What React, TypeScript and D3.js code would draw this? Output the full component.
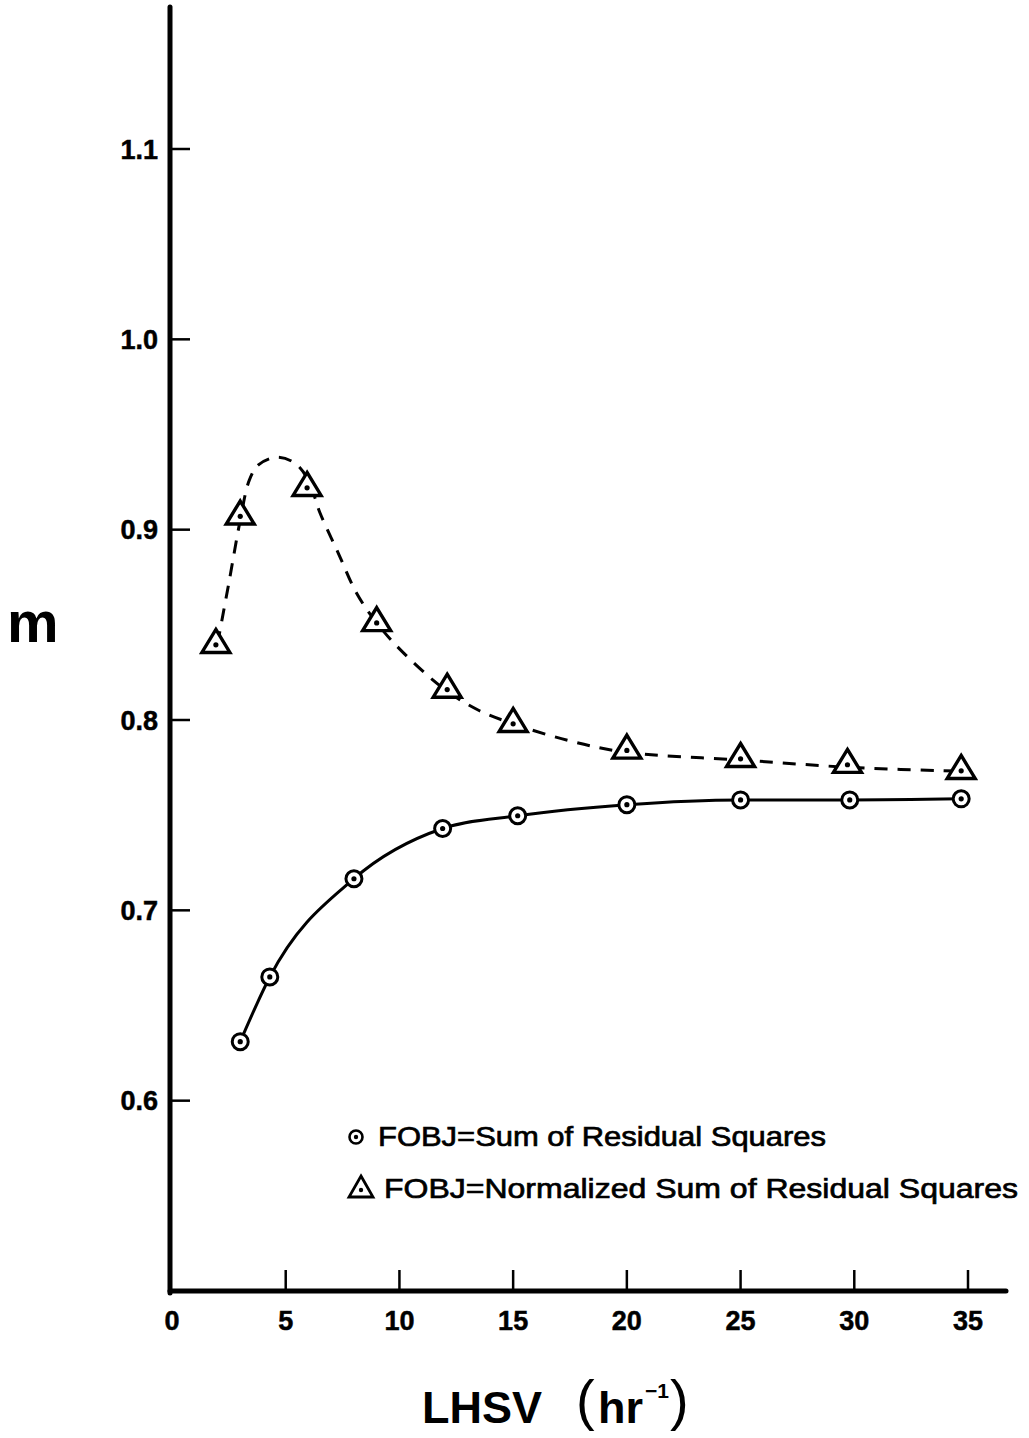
import * as d3 from "d3";

// FOBJ = Sum of Residual Squares (circles, solid curve)
const sumLHSV = [3, 4.3, 8, 11.9, 15.2, 20, 25, 29.8, 34.7];
const sumM = [0.631, 0.665, 0.7166, 0.743, 0.7497, 0.7555, 0.758, 0.758, 0.7586];

// FOBJ = Normalized Sum of Residual Squares (triangles, dashed curve)
const normLHSV = [1.93, 3.0, 5.94, 9.0, 12.1, 15.0, 20, 25, 29.7, 34.7];
const normM = [0.8395, 0.907, 0.922, 0.851, 0.816, 0.798, 0.784, 0.7796, 0.7765, 0.7733];

// hand-drawn fitted dashed curve
const fitLHSV = [2, 2.5, 3, 3.4, 3.8, 4.6, 5.4, 6, 6.5, 7.3, 8.1, 9, 10.2, 12, 13.5, 15, 17.5, 20, 25, 30, 35];
const fitM = [0.84, 0.872, 0.905, 0.926, 0.934, 0.938, 0.935, 0.926, 0.909, 0.888, 0.867, 0.851, 0.835, 0.816, 0.805, 0.798, 0.789, 0.783, 0.779, 0.775, 0.773];

const xTicks = [0, 5, 10, 15, 20, 25, 30, 35];
const yTicks = [0.6, 0.7, 0.8, 0.9, 1.0, 1.1];

const legendLabels = [
  "FOBJ=Sum of Residual Squares",
  "FOBJ=Normalized Sum of Residual Squares",
];

const width = 1029;
const height = 1438;

const x = d3.scaleLinear().domain([0, 35]).range([172, 968]);
const y = d3.scaleLinear().domain([0.5, 1.1]).range([1291, 149]);

const font = "'Liberation Sans', Arial, Helvetica, sans-serif";

const triPath = (w: number, h: number) =>
  `M0,${-(2 * h) / 3}L${w / 2},${h / 3}L${-w / 2},${h / 3}Z`;

export default function App() {
  const sumPts = sumLHSV.map((v, i) => [v, sumM[i]] as [number, number]);
  const normPts = normLHSV.map((v, i) => [v, normM[i]] as [number, number]);
  const fitPts = fitLHSV.map((v, i) => [v, fitM[i]] as [number, number]);

  const solid = d3
    .line<[number, number]>()
    .x((d) => x(d[0]))
    .y((d) => y(d[1]))
    .curve(d3.curveMonotoneX);
  const dashed = d3
    .line<[number, number]>()
    .x((d) => x(d[0]))
    .y((d) => y(d[1]))
    .curve(d3.curveCatmullRom.alpha(0.5));

  const axisLeft = x(0) - 2;
  const axisBottom = y(0.5);
  const yTop = 7;

  return (
    <svg
      width={width}
      height={height}
      viewBox={`0 0 ${width} ${height}`}
      style={{ position: "absolute", left: 0, top: 0, background: "#fff" }}
    >
      <rect width={width} height={height} fill="#fff" />

      {/* axes */}
      <line x1={axisLeft} x2={axisLeft} y1={yTop} y2={axisBottom + 2} stroke="#000" strokeWidth={5} strokeLinecap="round" />
      <line x1={axisLeft} x2={1006} y1={axisBottom} y2={axisBottom} stroke="#000" strokeWidth={5} strokeLinecap="round" />

      {yTicks.map((t) => (
        <g key={"y" + t}>
          <line x1={axisLeft} x2={190} y1={y(t)} y2={y(t)} stroke="#000" strokeWidth={2.5} />
          <text
            x={158}
            y={y(t)}
            dy="0.36em"
            textAnchor="end"
            fontFamily={font}
            fontWeight="bold"
            fontSize={27}
            stroke="#000"
            strokeWidth={0.5}
          >
            {t.toFixed(1)}
          </text>
        </g>
      ))}

      {xTicks.map((t) => (
        <g key={"x" + t}>
          {t > 0 && (
            <line x1={x(t)} x2={x(t)} y1={axisBottom} y2={1270} stroke="#000" strokeWidth={2.5} />
          )}
          <text
            x={x(t)}
            y={1330}
            textAnchor="middle"
            fontFamily={font}
            fontWeight="bold"
            fontSize={27}
            stroke="#000"
            strokeWidth={0.5}
          >
            {t}
          </text>
        </g>
      ))}

      {/* axis titles */}
      <text x={7} y={642} fontFamily={font} fontWeight="bold" fontSize={58}>
        m
      </text>
      <text x={422} y={1423} fontFamily={font} fontWeight="bold" fontSize={45}>
        LHSV
      </text>
      <text x={576} y={1419} fontFamily={font} fontWeight="normal" fontSize={56}>
        (
      </text>
      <text x={598} y={1423} fontFamily={font} fontWeight="bold" fontSize={45}>
        hr
      </text>
      <text x={645} y={1398} fontFamily={font} fontWeight="bold" fontSize={21}>
        −1
      </text>
      <text x={670} y={1419} fontFamily={font} fontWeight="normal" fontSize={56}>
        )
      </text>

      {/* curves */}
      <path d={solid(sumPts) ?? ""} fill="none" stroke="#000" strokeWidth={3} />
      <path d={dashed(fitPts) ?? ""} fill="none" stroke="#000" strokeWidth={3} strokeDasharray="13 10" />

      {/* markers */}
      {sumPts.map((d, i) => (
        <g key={"c" + i} transform={`translate(${x(d[0])},${y(d[1])})`}>
          <circle r={8} fill="#fff" stroke="#000" strokeWidth={3} />
          <circle r={2.6} fill="#000" />
        </g>
      ))}
      {normPts.map((d, i) => (
        <g key={"t" + i} transform={`translate(${x(d[0])},${y(d[1])})`}>
          <path d={triPath(28, 23)} fill="#fff" stroke="#000" strokeWidth={3.4} strokeLinejoin="miter" />
          <circle r={2.6} fill="#000" />
        </g>
      ))}

      {/* legend */}
      <g transform="translate(356,1137)">
        <circle r={6.5} fill="#fff" stroke="#000" strokeWidth={2.6} />
        <circle r={2.2} fill="#000" />
      </g>
      <text x={378} y={1146} fontFamily={font} fontSize={28} stroke="#000" strokeWidth={0.7} textLength={448} lengthAdjust="spacingAndGlyphs">
        {legendLabels[0]}
      </text>
      <g transform="translate(361,1190)">
        <path d={triPath(24, 21)} fill="#fff" stroke="#000" strokeWidth={2.8} />
        <circle r={2.2} fill="#000" />
      </g>
      <text x={384} y={1198} fontFamily={font} fontSize={28} stroke="#000" strokeWidth={0.7} textLength={634} lengthAdjust="spacingAndGlyphs">
        {legendLabels[1]}
      </text>
    </svg>
  );
}
